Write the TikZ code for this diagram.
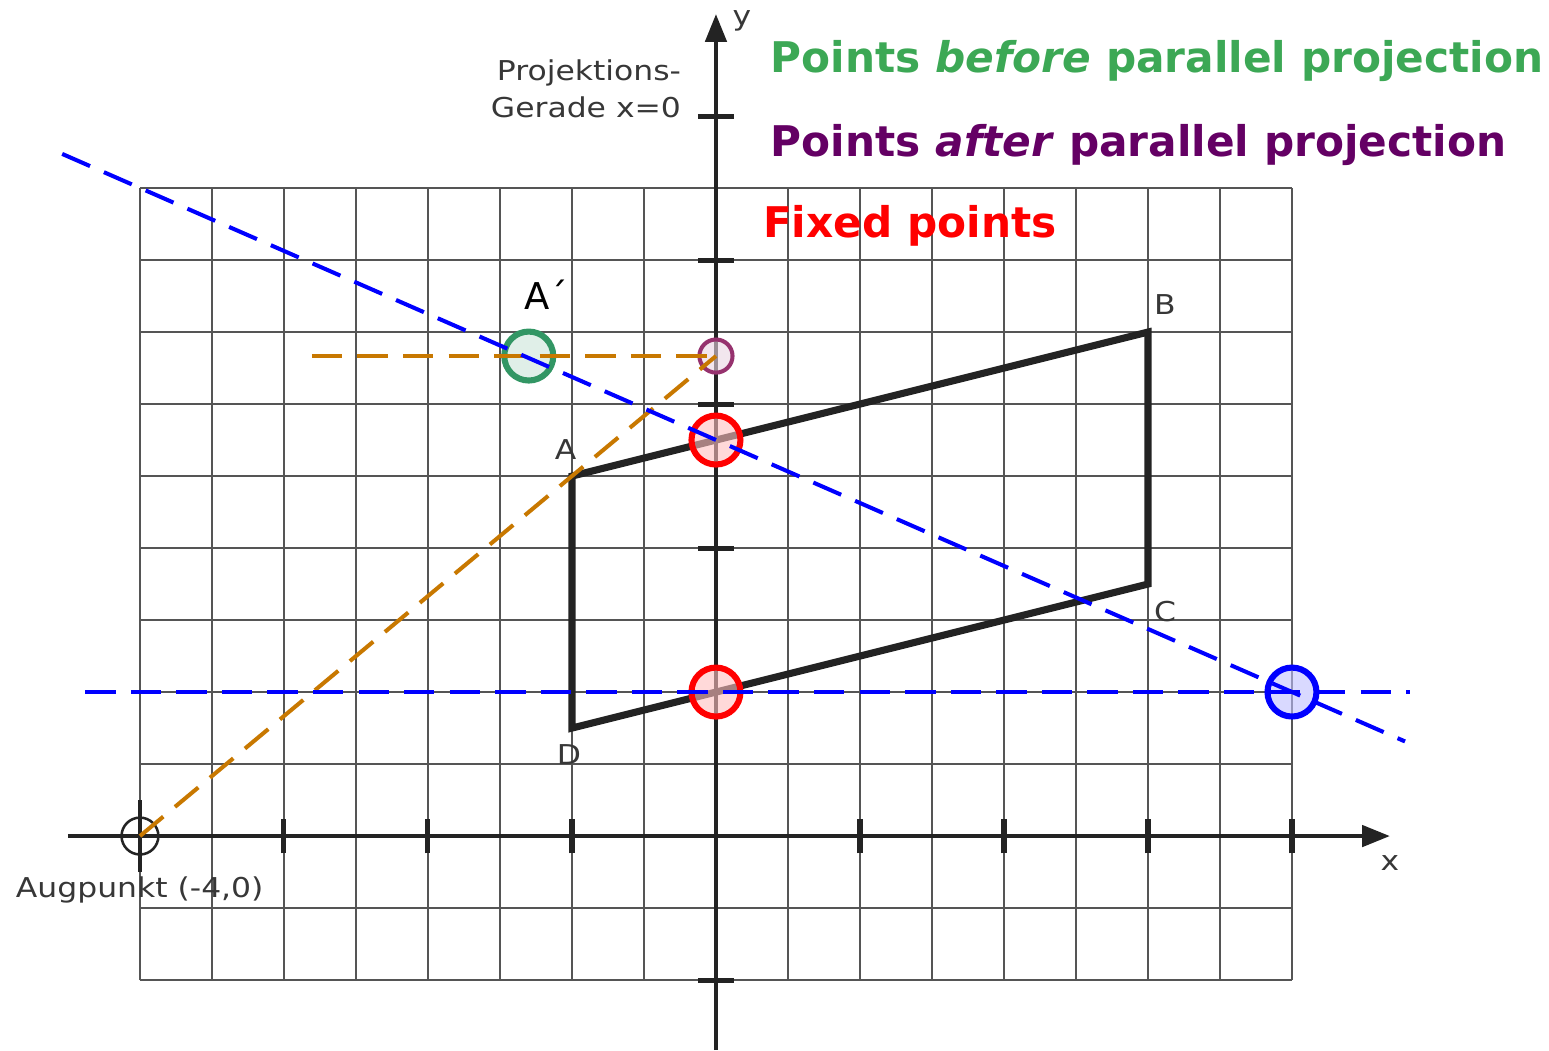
\documentclass[tikz,border=0pt]{standalone}
\usepackage{fontspec}
\setmainfont{DejaVu Sans}
\newfontfamily\lblfont[FakeStretch=1.15]{DejaVu Sans}
\usetikzlibrary{arrows.meta}
\definecolor{axisgray}{RGB}{35,35,35}
\definecolor{gridgray}{RGB}{85,85,85}
\definecolor{lblgray}{RGB}{55,55,55}
\definecolor{ttlgreen}{RGB}{60,168,85}
\definecolor{ttlpurple}{RGB}{100,0,100}
\definecolor{ptgreen}{RGB}{50,150,100}
\definecolor{ptpurple}{RGB}{150,50,110}
\definecolor{projorange}{RGB}{200,120,0}
\begin{document}
\begin{tikzpicture}[x=1cm,y=1cm,
  axis/.style={line width=0.8pt,draw=axisgray},
  tickmark/.style={line width=1pt,draw=axisgray},
  lbl/.style={font=\lblfont\fontsize{5.4}{7.3}\selectfont,text=lblgray,inner sep=0pt},
  ttl/.style={font=\fontsize{8.35}{10}\selectfont\bfseries,inner sep=0pt,anchor=base west},
  pt/.style={circle,minimum size=0.34cm,inner sep=0pt,line width=1.2pt,fill opacity=0.6,draw opacity=1},
  projline/.style={line width=0.8pt,dash pattern=on 6pt off 3pt}]
\useasboundingbox (-4.972,-1.486) rectangle (5.785,5.806);
\draw[gridgray,line width=0.3pt] (-4,-1) grid[step=0.5] (4,4.5);
\coordinate (A) at (-1,2.5);
\coordinate (B) at (3,3.5);
\coordinate (C) at (3,1.75);
\coordinate (D) at (-1,0.75);
\coordinate (Aug) at (-4,0);
\coordinate (xl) at (-4.5,0);
\coordinate (xr) at (4.68,0);
\coordinate (yb) at (0,-1.486);
\coordinate (yt) at (0,5.708);
\draw[axis,-{Triangle[length=5.5pt,width=4.2pt]}] (xl) -- (xr);
\draw[axis,-{Triangle[length=5.5pt,width=4.2pt]}] (yb) -- (yt);
\foreach \i in {-3,-2,-1,1,2,3,4} \draw[tickmark] (\i,-0.12) -- (\i,0.12);
\foreach \j in {-1,2,3,4,5} \draw[tickmark] (-0.125,\j) -- (0.125,\j);
\draw[axis,line width=0.9pt] (-4,-0.25) -- (-4,0.25);
\node[circle,draw=axisgray,line width=0.5pt,minimum size=0.256cm,inner sep=0pt] (augc) at (Aug) {};
\draw[line width=1.4pt,draw=axisgray,line join=miter] (A) -- (B) -- (C) -- (D) -- cycle;
\node[pt,draw=red,fill=red!25] (F1) at (0,2.75) {};
\node[pt,draw=red,fill=red!25] (F2) at (0,1) {};
\node[pt,draw=blue,fill=blue!25] (Bl) at (4,1) {};
\node[pt,draw=ptgreen,fill=ptgreen!25] (Ap) at (-1.3,10/3) {};
\node[circle,minimum size=0.23cm,inner sep=0pt,line width=0.8pt,draw=ptpurple,fill=ptpurple!20,fill opacity=0.6,draw opacity=1] (Pp) at (0,10/3) {};
\coordinate (oh) at (-2.806,10/3);
\coordinate (bl1) at (-4.54,4.737);
\coordinate (bl2) at (4.785,0.657);
\coordinate (hb1) at (-4.38,1);
\coordinate (hb2) at (4.82,1);
\draw[projline,projorange] (Aug) -- (Pp.center);
\draw[projline,projorange] (oh) -- (Pp.center);
\draw[projline,blue] (bl1) -- (bl2);
\draw[projline,blue] (hb1) -- (hb2);
\node[lbl,anchor=base west] (lA) at (-1.125,2.618) {A};
\node[lbl,anchor=base west] (lB) at (3.035,3.625) {B};
\node[lbl,anchor=base west] (lC) at (3.035,1.493) {C};
\node[lbl,anchor=base west] (lD) at (-1.111,0.5) {D};
\node[lbl,anchor=base west,font=\fontsize{7.3}{9}\selectfont,text=black] (lAp) at (-1.34,3.66) {A´};
\node[lbl,anchor=base west] (lAug) at (-4.868,-0.43) {Augpunkt (-4,0)};
\node[lbl,anchor=base east,align=right] (lproj) at (-0.236,4.993) {Projektions-\\Gerade x=0};
\node[lbl] (ly) at (0.18,5.66) {y};
\node[lbl] (lx) at (4.68,-0.19) {x};
\node[ttl,text=ttlgreen] (t1) at (0.375,5.299) {Points \textit{before} parallel projection};
\node[ttl,text=ttlpurple] (t2) at (0.375,4.72) {Points \textit{after} parallel projection};
\node[ttl,text=red] (t3) at (0.32,4.16) {Fixed points};
\end{tikzpicture}
\end{document}
